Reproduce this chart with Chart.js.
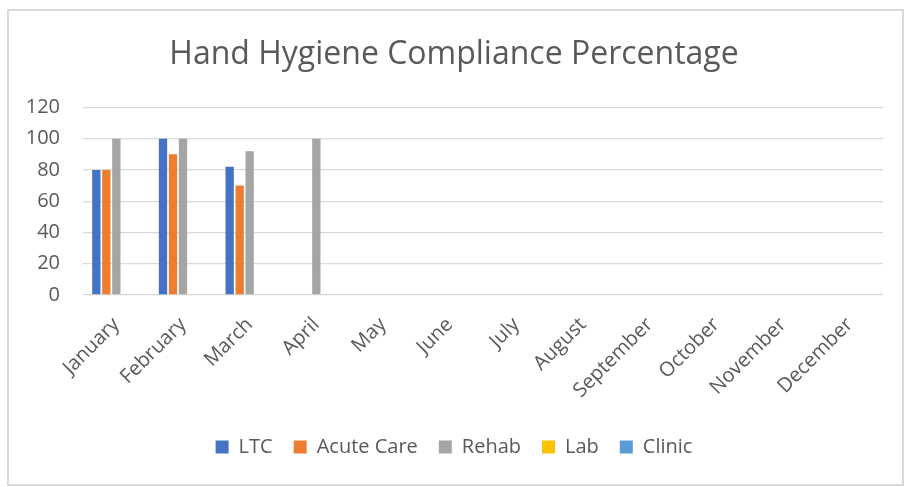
<!DOCTYPE html>
<html>
<head>
<meta charset="utf-8">
<script src="https://cdn.jsdelivr.net/npm/chart.js@4"></script>
<style>
  html, body { margin: 0; padding: 0; background: #fff; }
  #box {
    position: absolute; left: 7px; top: 9px; width: 897px; height: 477px;
    border: 2px solid #d9d9d9; box-sizing: border-box; background: #fff;
  }
  #myChart { display: block; }
</style>
</head>
<body>
<div id="box"><canvas id="myChart" width="893" height="473"></canvas></div>
<script>
// chart data
var months = ['January', 'February', 'March', 'April', 'May', 'June',
  'July', 'August', 'September', 'October', 'November', 'December'];
var ltc    = [80, 100, 82, null, null, null, null, null, null, null, null, null];
var acute  = [80, 90, 70, null, null, null, null, null, null, null, null, null];
var rehab  = [100, 100, 92, 100, null, null, null, null, null, null, null, null];
var lab    = [null, null, null, null, null, null, null, null, null, null, null, null];
var clinic = [null, null, null, null, null, null, null, null, null, null, null, null];

var textColor = '#595959';
var fontName = "'Open Sans', sans-serif";

function series(label, data, color) {
  return {
    label: label,
    data: data,
    backgroundColor: color,
    borderWidth: 0,
    categoryPercentage: 0.75,
    barPercentage: 0.83,
  };
}

var ctx = document.getElementById('myChart').getContext('2d');
var myChart = new Chart(ctx, {
  type: 'bar',
  data: {
    labels: months,
    datasets: [
      series('LTC', ltc, '#4472C4'),
      series('Acute Care', acute, '#ED7D31'),
      series('Rehab', rehab, '#A5A5A5'),
      series('Lab', lab, '#FFC000'),
      series('Clinic', clinic, '#5B9BD5'),
    ],
  },
  options: {
    responsive: false,
    animation: false,
    layout: {
      padding: { left: 16, right: 19, top: 0, bottom: 17 },
    },
    plugins: {
      tooltip: { enabled: false },
      title: {
        display: true,
        text: 'Hand Hygiene Compliance Percentage',
        color: textColor,
        font: { family: fontName, size: 32, weight: 'normal' },
        padding: { top: 25, bottom: 33 },
      },
      legend: {
        position: 'bottom',
        labels: {
          color: textColor,
          font: { family: fontName, size: 20 },
          boxWidth: 13,
          boxHeight: 13,
          padding: 21,
        },
      },
    },
    scales: {
      x: {
        grid: { display: false },
        border: { display: false },
        ticks: {
          color: textColor,
          font: { family: fontName, size: 20 },
          minRotation: 45,
          maxRotation: 45,
          autoSkip: false,
          padding: 10,
        },
        afterFit: function (scale) {
          // rotated labels must not push the plot area in
          scale.height = 121;
          scale.paddingLeft = 0;
          scale.paddingRight = 0;
        },
      },
      y: {
        min: 0,
        max: 120,
        grid: { color: '#d9d9d9', lineWidth: 1.3, drawTicks: false },
        border: { display: false },
        ticks: {
          stepSize: 20,
          color: textColor,
          font: { family: fontName, size: 20 },
          padding: 23,
        },
        afterFit: function (scale) {
          scale.width = 58;
        },
      },
    },
  },
});
</script>
</body>
</html>
